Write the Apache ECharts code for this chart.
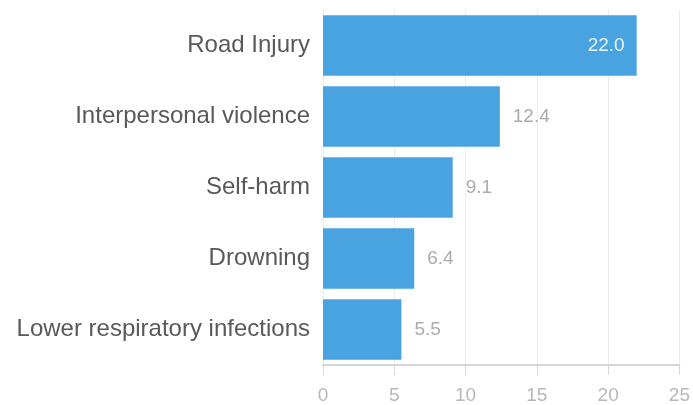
<!DOCTYPE html>
<html>
<head>
<meta charset="utf-8">
<script src="https://cdn.jsdelivr.net/npm/echarts@6/dist/echarts.min.js"></script>
<style>
  html, body { margin: 0; padding: 0; background: #fff; }
  #chart { width: 693px; height: 405px; }
</style>
</head>
<body>
<div id="chart"></div>
<script>
const categories = [
  "Road Injury",
  "Interpersonal violence",
  "Self-harm",
  "Drowning",
  "Lower respiratory infections",
];
const values = [22.0, 12.4, 9.1, 6.4, 5.5];
const xTicks = [0, 5, 10, 15, 20, 25];

const chart = echarts.init(document.getElementById("chart"));

const option = {
  animation: false,
  grid: {
    left: 323,
    right: 12,
    top: 10,
    bottom: 40,
  },
  xAxis: {
    type: "value",
    min: xTicks[0],
    max: xTicks[xTicks.length - 1],
    interval: 5,
    axisLine: { show: true, lineStyle: { color: "#d6d6d6", width: 2 } },
    axisTick: { show: true, length: 10, lineStyle: { color: "#d6d6d6" } },
    axisLabel: { color: "#b8b8b8", fontSize: 19, fontFamily: "Liberation Sans", margin: 21 },
    splitLine: { show: true, lineStyle: { color: "#ececec" } },
  },
  yAxis: {
    type: "category",
    data: categories,
    inverse: true,
    axisLine: { show: false },
    axisTick: { show: false },
    axisLabel: { color: "#595959", fontSize: 24, fontFamily: "Liberation Sans", margin: 13 },
  },
  series: [
    {
      type: "bar",
      barCategoryGap: "15%",
      itemStyle: { color: "#48a3e0" },
      data: values.map((v, i) => ({
        value: v,
        label: i === 0
          ? { show: true, position: "insideRight", color: "#e8f4fc", distance: 12 }
          : { show: true, position: "right", color: "#ababab", distance: 13 },
      })),
      label: {
        fontSize: 19,
        fontFamily: "Liberation Sans",
        formatter: (p) => p.value.toFixed(1),
      },
    },
  ],
};

chart.setOption(option);
</script>
</body>
</html>
